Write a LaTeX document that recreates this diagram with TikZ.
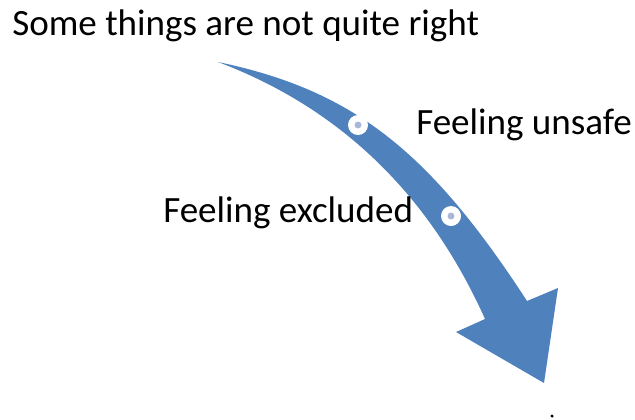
\documentclass[tikz,border=0pt]{standalone}
\usepackage{fontspec}
\setmainfont{Carlito}
\usepackage{xcolor}
\usetikzlibrary{positioning}
\definecolor{arrowblue}{HTML}{4F81BD}
\definecolor{markfill}{HTML}{A9B6D8}

\begin{document}
\begin{tikzpicture}[x=0.75pt, y=-0.75pt,
  label/.style={anchor=base west, inner sep=0pt, font=\fontsize{27.8}{33}\selectfont},
  waypoint/.style={circle, fill=white, minimum size=15pt, inner sep=0pt,
    path picture={\fill[markfill] (path picture bounding box.center) circle (2.6pt);}}
]
  \useasboundingbox (0,0) rectangle (635,419);

  % Curved arrow
  \coordinate (tail) at (218,62);
  \coordinate (rcorner) at (527,301);
  \coordinate (rbarb) at (558,288);
  \coordinate (tip) at (544,383);
  \coordinate (lbarb) at (456,332);
  \coordinate (lcorner) at (485,319);
  \fill[arrowblue] (tail) .. controls (352,90) and (429,150) .. (rcorner)
    -- (rbarb) -- (tip) -- (lbarb) -- (lcorner)
    .. controls (429,194) and (340,108) .. (tail) -- cycle;

  % Waypoints on the arrow
  \node[waypoint] (unsafe mark) at (358,125) {};
  \node[waypoint] (excluded mark) at (451,216) {};

  % Labels
  \node[label] (start) at (12,35) {Some things are not quite right};
  \node[label] (unsafe) at (416,134) {Feeling unsafe};
  \node[label] (excluded) at (163,222) {Feeling excluded};

  % Cut-off mark at the bottom
  \fill (552,416) circle (1.3pt);
\end{tikzpicture}
\end{document}
